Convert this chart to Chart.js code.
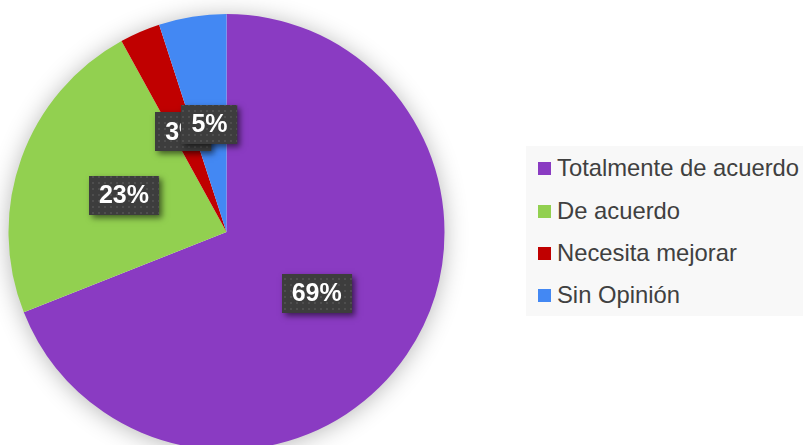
<!DOCTYPE html>
<html>
<head>
<meta charset="utf-8">
<script src="https://cdn.jsdelivr.net/npm/chart.js@4"></script>
<style>
  body { margin: 0; background: #fff; overflow: hidden; width: 803px; height: 445px; position: relative; font-family: "Liberation Sans", Arial, sans-serif; }
  #wrap { position: absolute; left: 0; top: 0; width: 803px; height: 460px; }
  #leyenda { position: absolute; left: 526px; top: 146px; width: 277px; height: 170px; background: #f8f8f8; }
  .item { position: absolute; left: 12px; height: 28px; line-height: 28px; font-size: 23.8px; color: #404040; white-space: nowrap; }
  .item span { display: inline-block; width: 13px; height: 13px; margin-right: 6px; vertical-align: 1px; }
</style>
</head>
<body>
<div id="wrap"><canvas id="grafico" width="803" height="460"></canvas></div>
<div id="leyenda"></div>
<script>
const categorias = ["Totalmente de acuerdo", "De acuerdo", "Necesita mejorar", "Sin Opinión"];
const valores = [69, 23, 3, 5];
const colores = ["#8a3bc2", "#92d050", "#c00000", "#4388f3"];

// patron de puntitos para las etiquetas
const pat = document.createElement('canvas');
pat.width = 6; pat.height = 6;
{
  const p = pat.getContext('2d');
  p.fillStyle = '#3d3d3d';
  p.fillRect(0, 0, 6, 6);
  p.fillStyle = '#4e4e4e';
  p.fillRect(2, 2, 2, 2);
}

const sombra = {
  id: 'sombra',
  beforeDatasetsDraw(chart) {
    const arc = chart.getDatasetMeta(0).data[0];
    const ctx = chart.ctx;
    ctx.save();
    ctx.shadowColor = 'rgba(0,0,0,0.3)';
    ctx.shadowBlur = 24;
    ctx.shadowOffsetY = 2;
    ctx.fillStyle = '#fff';
    ctx.beginPath();
    ctx.arc(arc.x, arc.y, arc.outerRadius - 1, 0, Math.PI * 2);
    ctx.fill();
    ctx.restore();
  }
};

const etiquetas = {
  id: 'etiquetas',
  afterDatasetsDraw(chart) {
    const ctx = chart.ctx;
    const meta = chart.getDatasetMeta(0);
    ctx.save();
    ctx.font = 'bold 25px "Liberation Sans", Arial, sans-serif';
    meta.data.forEach((arc, i) => {
      const pos = arc.tooltipPosition();
      const txt = valores[i] + '%';
      const w = ctx.measureText(txt).width + 20;
      const h = 39;
      const x = Math.round(pos.x - w / 2), y = Math.round(pos.y - h / 2);
      ctx.save();
      ctx.shadowColor = 'rgba(0,0,0,0.55)';
      ctx.shadowBlur = 6;
      ctx.shadowOffsetX = 3;
      ctx.shadowOffsetY = 3;
      ctx.fillStyle = '#3d3d3d';
      ctx.fillRect(x, y, w, h);
      ctx.restore();
      ctx.fillStyle = ctx.createPattern(pat, 'repeat');
      ctx.fillRect(x, y, w, h);
      ctx.fillStyle = '#fff';
      ctx.textAlign = 'center';
      ctx.textBaseline = 'middle';
      ctx.fillText(txt, pos.x, pos.y + 1);
    });
    ctx.restore();
  }
};

const graph = new Chart(document.getElementById('grafico').getContext('2d'), {
  type: 'pie',
  data: {
    labels: categorias,
    datasets: [{
      data: valores,
      backgroundColor: colores,
      borderWidth: 0,
      hoverOffset: 0,
      offset: 0
    }]
  },
  options: {
    responsive: false,
    animation: false,
    layout: { padding: { left: 8.5, top: 14, right: 358.5, bottom: 10 } },
    plugins: {
      legend: { display: false },
      tooltip: { enabled: false }
    }
  },
  plugins: [sombra, etiquetas]
});

// leyenda
const ley = document.getElementById('leyenda');
const filas = [21.5, 65, 106.5, 149];
categorias.forEach((c, i) => {
  const d = document.createElement('div');
  d.className = 'item';
  d.style.top = (filas[i] - 14) + 'px';
  d.innerHTML = '<span style="background:' + colores[i] + '"></span>' + c;
  ley.appendChild(d);
});
</script>
</body>
</html>
